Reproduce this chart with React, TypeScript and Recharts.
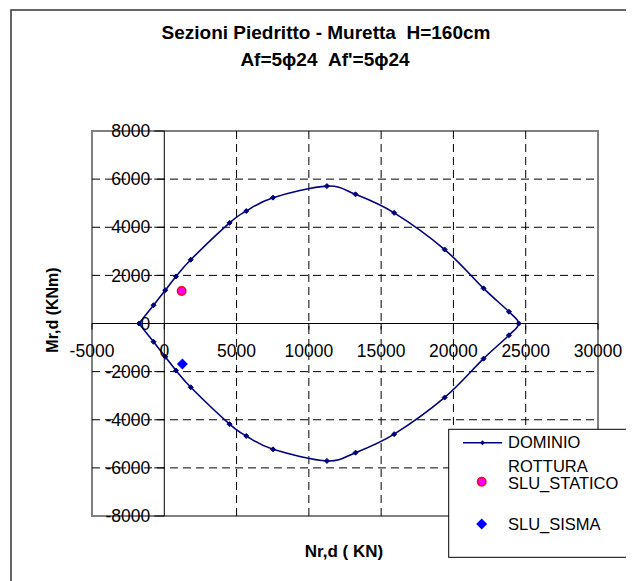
import React from 'react';
import {
  ComposedChart,
  Scatter,
  XAxis,
  YAxis,
  ReferenceLine,
  ReferenceArea,
  ReferenceDot,
} from 'recharts';

// ---- data ----
const dominioN = [
  -1750, -743, 69, 812, 1829, 4514, 5671, 7523, 11250, 13230, 15900, 19396, 22083, 23840, 24514,
  23840, 22083, 19396, 15900, 13230, 11250, 7523, 5671, 4514, 1829, 812, 69, -743, -1750,
];
const dominioM = [
  0, 760, 1385, 1955, 2650, 4182, 4674, 5230, 5710, 5368, 4598, 3074, 1460, 490, 0,
  -490, -1460, -3074, -4598, -5368, -5710, -5230, -4674, -4182, -2650, -1955, -1385, -760, 0,
];
const staticoN = [1200];
const staticoM = [1350];
const sismaN = [1250];
const sismaM = [-1680];

const xTicks = [-5000, 0, 5000, 10000, 15000, 20000, 25000, 30000];
const yTicks = [-8000, -6000, -4000, -2000, 0, 2000, 4000, 6000, 8000];
const xGrid = [5000, 10000, 15000, 20000, 25000];
const yGrid = [-6000, -4000, -2000, 2000, 4000, 6000];

const titleLine1 = 'Sezioni Piedritto - Muretta  H=160cm';
const titleLine2 = "Af=5\u03D524  Af'=5\u03D524";
const xLabel = 'Nr,d ( KN)';
const yLabel = 'Mr,d (KNm)';
const legendNames = ['DOMINIO', 'ROTTURA', 'SLU_STATICO', 'SLU_SISMA'];

const dominio = dominioN.map((x, i) => ({ x, y: dominioM[i] }));
const statico = staticoN.map((x, i) => ({ x, y: staticoM[i] }));
const sisma = sismaN.map((x, i) => ({ x, y: sismaM[i] }));

const FONT = '"Liberation Sans", Arial, sans-serif';
const NAVY = '#000080';

// Excel-like smoothed line (Catmull-Rom via cubic Bezier)
const excelSmooth: any = (context: any) => {
  let xs: number[] = [];
  let ys: number[] = [];
  return {
    areaStart() {},
    areaEnd() {},
    lineStart() {
      xs = [];
      ys = [];
    },
    point(x: number, y: number) {
      xs.push(+x);
      ys.push(+y);
    },
    lineEnd() {
      const n = xs.length;
      if (!n) return;
      context.moveTo(xs[0], ys[0]);
      for (let i = 0; i < n - 1; i++) {
        const i0 = Math.max(i - 1, 0);
        const i3 = Math.min(i + 2, n - 1);
        context.bezierCurveTo(
          xs[i] + (xs[i + 1] - xs[i0]) / 6,
          ys[i] + (ys[i + 1] - ys[i0]) / 6,
          xs[i + 1] - (xs[i3] - xs[i]) / 6,
          ys[i + 1] - (ys[i3] - ys[i]) / 6,
          xs[i + 1],
          ys[i + 1]
        );
      }
    },
  };
};

const smallDiamond = (p: any) => {
  const { cx, cy } = p;
  if (cx == null || cy == null) return <g />;
  const s = 2.5;
  return (
    <polygon
      points={`${cx},${cy - s} ${cx + s},${cy} ${cx},${cy + s} ${cx - s},${cy}`}
      fill={NAVY}
      stroke={NAVY}
    />
  );
};

const pinkCircle = (p: any) => {
  const { cx, cy } = p;
  if (cx == null || cy == null) return <g />;
  return <circle cx={cx} cy={cy} r={4.2} fill="#FF00FF" stroke="#FF0000" strokeWidth={1.5} />;
};

const blueDiamond = (p: any) => {
  const { cx, cy } = p;
  if (cx == null || cy == null) return <g />;
  const s = 5.5;
  return (
    <polygon
      points={`${cx},${cy - s} ${cx + s},${cy} ${cx},${cy + s} ${cx - s},${cy}`}
      fill="#0000FF"
    />
  );
};

const xTickShape = (p: any) => (
  <line x1={p.cx} y1={p.cy} x2={p.cx} y2={p.cy + 6} stroke="#000" strokeWidth={1} />
);
const yTickShape = (p: any) => (
  <line x1={p.cx - 10} y1={p.cy} x2={p.cx} y2={p.cy} stroke="#000" strokeWidth={1} />
);

export default function App() {
  return (
    <div
      style={{
        position: 'relative',
        width: 626,
        height: 573,
        overflow: 'hidden',
        background: '#fff',
        fontFamily: FONT,
      }}
    >
      <ComposedChart
        width={626}
        height={573}
        margin={{ top: 123, left: 84, right: 36, bottom: 65 }}
      >
        <XAxis
          type="number"
          dataKey="x"
          domain={[-5000, 30000]}
          ticks={xTicks}
          allowDataOverflow
          height={0}
          tick={false}
          axisLine={false}
          tickLine={false}
        />
        <YAxis
          type="number"
          dataKey="y"
          domain={[-8000, 8000]}
          ticks={yTicks}
          allowDataOverflow
          width={0}
          tick={false}
          axisLine={false}
          tickLine={false}
        />
        {xGrid.map((v) => (
          <ReferenceLine key={`gx${v}`} x={v} stroke="#000" strokeWidth={1} strokeDasharray="8 5" />
        ))}
        {yGrid.map((v) => (
          <ReferenceLine key={`gy${v}`} y={v} stroke="#000" strokeWidth={1} strokeDasharray="8 5" />
        ))}
        <ReferenceArea
          x1={-5000}
          x2={30000}
          y1={-8000}
          y2={8000}
          fill="none"
          fillOpacity={0}
          stroke="#808080"
          strokeWidth={2}
        />
        <ReferenceLine x={0} stroke="#000" strokeWidth={1} />
        <ReferenceLine y={0} stroke="#000" strokeWidth={1} />
        {xTicks.map((v) => (
          <ReferenceDot
            key={`xt${v}`}
            x={v}
            y={0}
            r={0}
            shape={xTickShape}
            label={{
              value: String(v),
              position: 'bottom',
              offset: 21,
              fill: '#000',
              fontSize: 17.5,
              fontFamily: FONT,
            }}
          />
        ))}
        {yTicks.map((v) => (
          <ReferenceDot
            key={`yt${v}`}
            x={0}
            y={v}
            r={0}
            shape={yTickShape}
            label={{
              value: String(v),
              position: 'left',
              offset: 14,
              fill: '#000',
              fontSize: 17.5,
              fontFamily: FONT,
            }}
          />
        ))}
        <Scatter
          name="DOMINIO"
          data={dominio}
          fill={NAVY}
          line={{ stroke: NAVY, strokeWidth: 1.6 }}
          lineJointType={excelSmooth}
          shape={smallDiamond}
          isAnimationActive={false}
        />
        <Scatter
          name="ROTTURA SLU_STATICO"
          data={statico}
          fill="#FF00FF"
          shape={pinkCircle}
          isAnimationActive={false}
        />
        <Scatter
          name="SLU_SISMA"
          data={sisma}
          fill="#0000FF"
          shape={blueDiamond}
          isAnimationActive={false}
        />
      </ComposedChart>
      <svg
        width={626}
        height={573}
        style={{ position: 'absolute', left: 0, top: 0, pointerEvents: 'none' }}
        fontFamily={FONT}
      >
        <path d="M3,700 L3,2 L700,2" fill="none" stroke="#333" strokeWidth={1.5} />
        <text
          x={318}
          y={31}
          textAnchor="middle"
          fontSize={19}
          fontWeight="bold"
          style={{ whiteSpace: 'pre' }}
        >
          {titleLine1}
        </text>
        <text
          x={317}
          y={58}
          textAnchor="middle"
          fontSize={19}
          fontWeight="bold"
          style={{ whiteSpace: 'pre' }}
        >
          {titleLine2}
        </text>
        <text
          x={50}
          y={302}
          textAnchor="middle"
          fontSize={16}
          fontWeight="bold"
          transform="rotate(-90 50 302)"
        >
          {yLabel}
        </text>
        <text
          x={336}
          y={549}
          textAnchor="middle"
          fontSize={17}
          fontWeight="bold"
          style={{ whiteSpace: 'pre' }}
        >
          {xLabel}
        </text>
        <g>
          <rect x={440.7} y={421.3} width={300} height={128} fill="#fff" stroke="#000" strokeWidth={1} />
          <line x1={455} y1={434.7} x2={494} y2={434.7} stroke={NAVY} strokeWidth={1.6} />
          <polygon points="474.5,432.2 477,434.7 474.5,437.2 472,434.7" fill={NAVY} />
          <text x={500} y={440} fontSize={16.5}>{legendNames[0]}</text>
          <text x={500} y={464} fontSize={16.5}>{legendNames[1]}</text>
          <text x={500} y={480.5} fontSize={16.5}>{legendNames[2]}</text>
          <circle cx={473.7} cy={473.7} r={4.2} fill="#FF00FF" stroke="#FF0000" strokeWidth={1.5} />
          <text x={500} y={521.5} fontSize={16.5}>{legendNames[3]}</text>
          <polygon points="473.7,510.5 479.2,516 473.7,521.5 468.2,516" fill="#0000FF" />
        </g>
      </svg>
    </div>
  );
}
